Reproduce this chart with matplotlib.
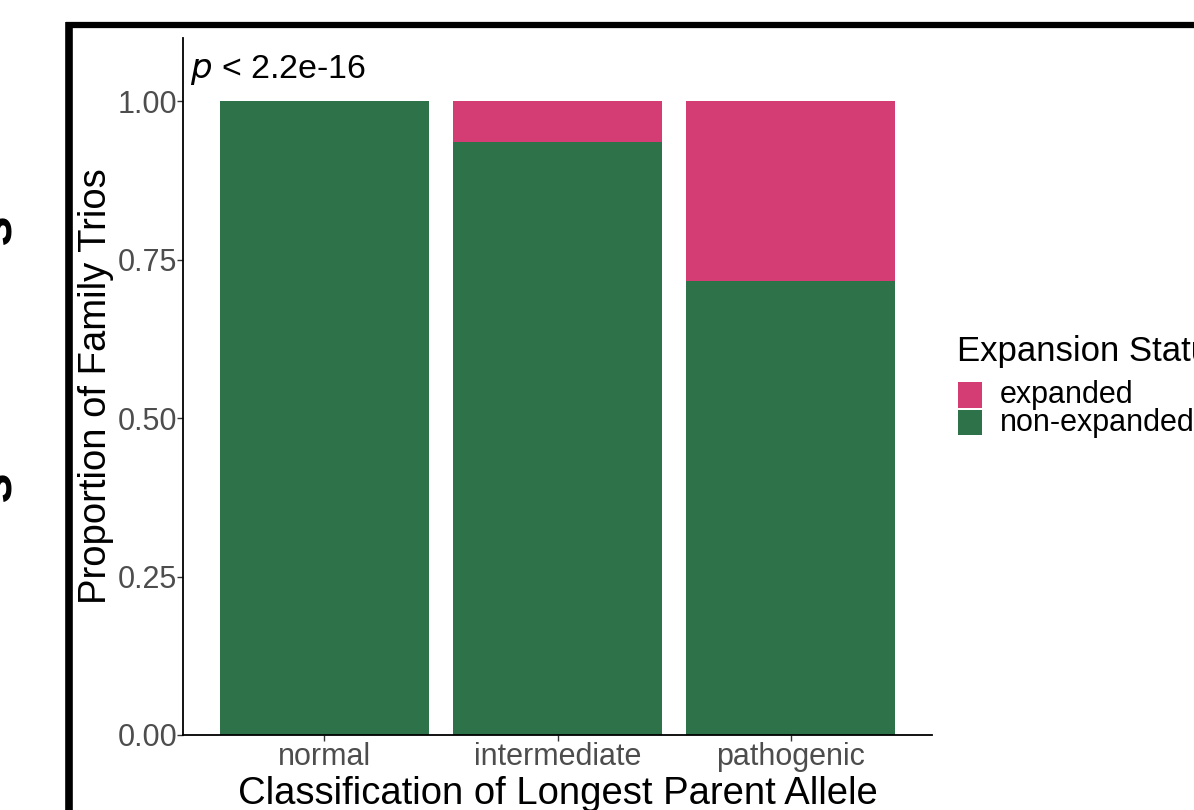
import matplotlib
matplotlib.use("Agg")
import matplotlib.pyplot as plt
from matplotlib.lines import Line2D
from matplotlib.patches import Rectangle

plt.rcParams['font.family'] = ['Liberation Sans', 'DejaVu Sans']

# ── Data ─────────────────────────────────────────────────────────
categories = ["normal", "intermediate", "pathogenic"]
non_expanded = [1.000, 0.936, 0.717]
expanded = [0.000, 0.064, 0.283]
y_ticks = [0.00, 0.25, 0.50, 0.75, 1.00]
y_ticklabels = ["0.00", "0.25", "0.50", "0.75", "1.00"]
legend_labels = ["expanded", "non-expanded"]

green = "#2D7249"
pink = "#D33D74"
grey = "#4D4D4D"

W, H = 1194, 810
fig = plt.figure(figsize=(W / 100, H / 100), dpi=100)

def fx(px):
    return px / W

def fy(py):
    return 1 - py / H

# panel frame (thick border from the surrounding figure)
fig.add_artist(Line2D([fx(66), fx(1194)], [fy(25), fy(25)], color="black", lw=4.5,
                      solid_capstyle="butt", transform=fig.transFigure))
fig.add_artist(Line2D([fx(69), fx(69)], [fy(22), fy(810)], color="black", lw=5.5,
                      solid_capstyle="butt", transform=fig.transFigure))

# clipped letters from the neighbouring panel
for py in [230, 487]:
    fig.text(fx(-3), fy(py), "s", rotation=90, fontsize=40, fontweight="bold",
             ha="center", va="center", color="black")

ax = fig.add_axes([fx(183), fy(735), fx(932) - fx(183), fy(38) - fy(735)])

x = range(len(categories))
ax.bar(x, non_expanded, width=0.9, color=green)
ax.bar(x, expanded, width=0.9, bottom=non_expanded, color=pink)

ax.set_xlim(-0.607, 2.607)
ax.set_ylim(0, 1.1)
ax.set_xticks(list(x))
ax.set_xticklabels(categories, fontsize=22, color=grey)
ax.set_yticks(y_ticks)
ax.set_yticklabels(y_ticklabels, fontsize=22, color=grey)
ax.tick_params(axis="both", length=4, width=1, color="#333333")
ax.tick_params(axis="x", pad=1)
ax.tick_params(axis="y", pad=0)

for side in ["top", "right"]:
    ax.spines[side].set_visible(False)
for side in ["left", "bottom"]:
    ax.spines[side].set_linewidth(1.3)
    ax.spines[side].set_color("black")

ax.set_xlabel("Classification of Longest Parent Allele", fontsize=27.5, labelpad=3)
ax.set_ylabel("Proportion of Family Trios", fontsize=27.5, labelpad=3)

ax.text(0.01, 1.05, r"$\it{p}$ < 2.2e-16", transform=ax.get_yaxis_transform(),
        fontsize=24.5, ha="left", va="center")

# legend drawn by hand to keep the keys stacked tightly
fig.text(fx(957), fy(352), "Expansion Status", fontsize=25, ha="left", va="center")
key_colors = [pink, green]
for i, (lab, col) in enumerate(zip(legend_labels, key_colors)):
    top = 382 + i * 27.5
    fig.add_artist(Rectangle((fx(958), fy(top + 25.5)), fx(24), 25.5 / H,
                             facecolor=col, edgecolor="none", transform=fig.transFigure))
    fig.text(fx(1000), fy(top + 13), lab, fontsize=22, ha="left", va="center")

fig.savefig("out.png", dpi=100)
